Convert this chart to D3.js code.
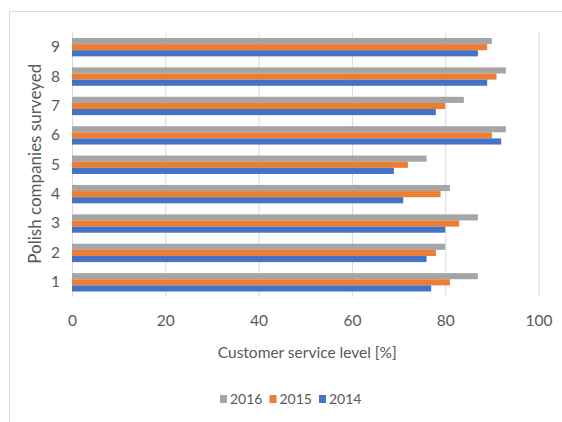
<!DOCTYPE html>
<html>
<head>
<meta charset="utf-8">
<script src="https://cdn.jsdelivr.net/npm/d3@7"></script>
<style>
  html, body { margin: 0; padding: 0; background: #fff; }
  svg { display: block; font-family: Lato, "Open Sans", sans-serif; }
</style>
</head>
<body>
<svg id="chart" width="562" height="422"></svg>
<script>
// Companies surveyed (1–9) and customer service level per year, in %
const companies = ["1", "2", "3", "4", "5", "6", "7", "8", "9"];
const years = ["2016", "2015", "2014"];
const values2016 = [87, 80, 87, 81, 76, 93, 84, 93, 90];
const values2015 = [81, 78, 83, 79, 72, 90, 80, 91, 89];
const values2014 = [77, 76, 80, 71, 69, 92, 78, 89, 87];
const xTicks = [0, 20, 40, 60, 80, 100];
const colors = ["#A5A5A5", "#ED7D31", "#4472C4"];

const seriesValues = { "2016": values2016, "2015": values2015, "2014": values2014 };

const svg = d3.select("#chart");
const plot = { left: 72, right: 538.5, top: 32.5, bottom: 297 };
const textColor = "#595959";
const gridColor = "#D9D9D9";

// chart frame
svg.append("rect")
  .attr("x", 9.5).attr("y", 11.5)
  .attr("width", 600).attr("height", 500)
  .attr("fill", "none").attr("stroke", gridColor);

const x = d3.scaleLinear().domain([0, 100]).range([plot.left, plot.right]);
const y = d3.scaleBand()
  .domain(companies.slice().reverse())
  .range([plot.top, plot.bottom])
  .paddingInner(0.375)
  .paddingOuter(0.1875);
const ySub = d3.scaleBand().domain(years).range([0, y.bandwidth()]);
const color = d3.scaleOrdinal().domain(years).range(colors);

// vertical gridlines
svg.append("g")
  .selectAll("line")
  .data(xTicks)
  .join("line")
  .attr("x1", d => x(d) + 0.5).attr("x2", d => x(d) + 0.5)
  .attr("y1", plot.top).attr("y2", plot.bottom)
  .attr("stroke", gridColor).attr("stroke-width", 1);

// bars
const groups = svg.append("g")
  .selectAll("g")
  .data(companies)
  .join("g")
  .attr("transform", d => `translate(0,${y(d)})`);

groups.selectAll("rect")
  .data((c, i) => years.map(yr => ({ year: yr, value: seriesValues[yr][i] })))
  .join("rect")
  .attr("x", x(0))
  .attr("y", d => ySub(d.year))
  .attr("width", d => x(d.value) - x(0))
  .attr("height", ySub.bandwidth())
  .attr("fill", d => color(d.year));

// x axis
const xAxis = svg.append("g")
  .attr("transform", `translate(0,${plot.bottom})`)
  .call(d3.axisBottom(x).tickValues(xTicks).tickSize(0).tickPadding(18));
xAxis.select(".domain").remove();
xAxis.selectAll("text")
  .attr("fill", textColor)
  .style("font-size", "15.5px")
  .style("font-family", "Lato, sans-serif");

// y axis
const yAxis = svg.append("g")
  .attr("transform", `translate(${plot.left},0)`)
  .call(d3.axisLeft(y).tickSize(0).tickPadding(12));
yAxis.select(".domain").remove();
yAxis.selectAll("text")
  .attr("fill", textColor)
  .style("font-size", "15.5px")
  .style("font-family", "Lato, sans-serif");

// axis titles
svg.append("text")
  .attr("x", (plot.left + plot.right) / 2 + 2)
  .attr("y", 358)
  .attr("text-anchor", "middle")
  .attr("fill", textColor)
  .style("font-size", "15.5px")
  .text("Customer service level [%]");

svg.append("text")
  .attr("transform", `translate(41,${(plot.top + plot.bottom) / 2 - 1}) rotate(-90)`)
  .attr("text-anchor", "middle")
  .attr("fill", textColor)
  .style("font-size", "17px")
  .text("Polish companies surveyed");

// legend
const legend = svg.append("g").attr("transform", "translate(220,399)");
const legendItems = legend.selectAll("g")
  .data(years)
  .join("g")
  .attr("transform", (d, i) => `translate(${i * 49.5},0)`);
legendItems.append("rect")
  .attr("x", 0).attr("y", -4)
  .attr("width", 7).attr("height", 8)
  .attr("fill", d => color(d));
legendItems.append("text")
  .attr("x", 10).attr("y", 0)
  .attr("dy", "0.35em")
  .attr("fill", textColor)
  .style("font-size", "14px")
  .text(d => d);
</script>
</body>
</html>
